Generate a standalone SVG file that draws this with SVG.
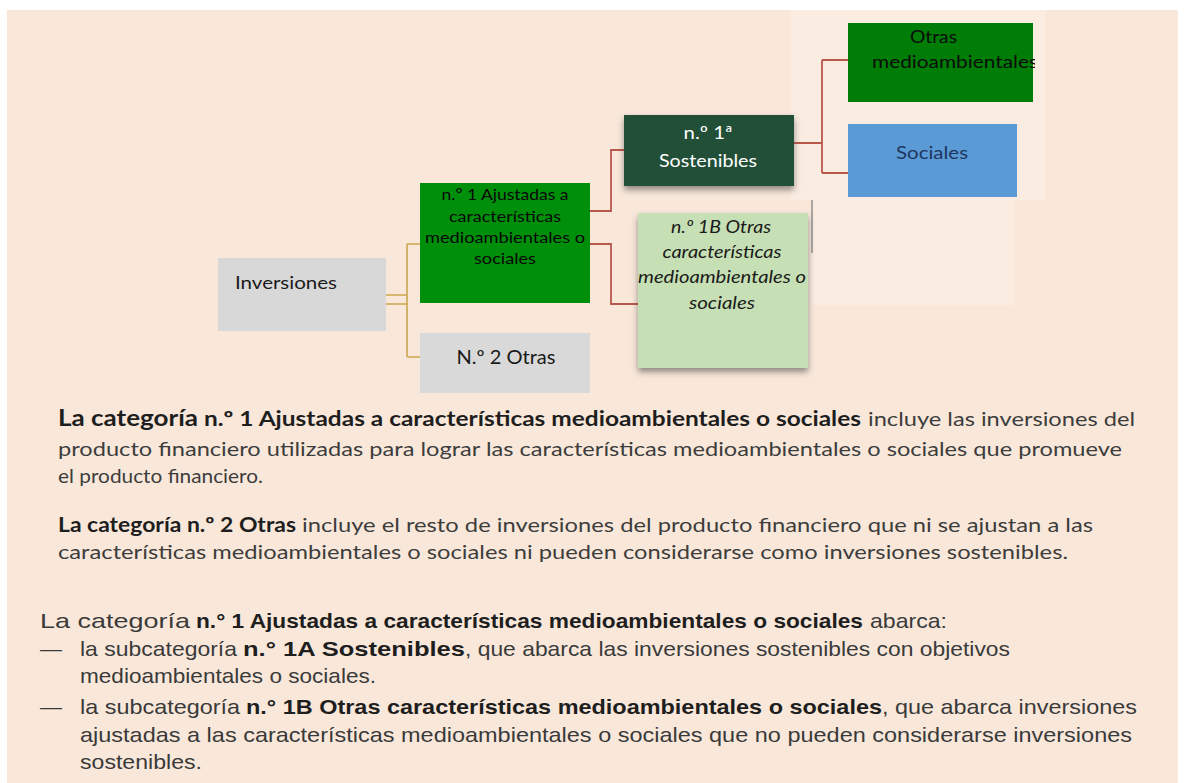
<svg xmlns="http://www.w3.org/2000/svg" width="1187" height="783" viewBox="0 0 1187 783">
<style>
.node-t{font-family:Lato,"Liberation Sans",sans-serif;fill:#1a1a1a;}
.c-gold{fill:none;stroke:#C9A64E;stroke-width:1.6;}
.c-red{fill:none;stroke:#B9574D;stroke-width:1.8;}
.p{font-family:Lato,"Liberation Sans",sans-serif;font-size:20px;fill:#3d3d3d;}
.pb{font-family:Lato,"Liberation Sans",sans-serif;font-size:20px;font-weight:bold;fill:#1e1e1e;}
.q{font-family:"Liberation Sans",Arial,sans-serif;font-size:21px;fill:#3a3a3a;}
.qb{font-family:"Liberation Sans",Arial,sans-serif;font-size:21px;font-weight:bold;fill:#1e1e1e;}
</style>
<defs>
<filter id="sh" x="-10%" y="-10%" width="120%" height="140%">
<feDropShadow dx="0" dy="4" stdDeviation="3" flood-color="#3a3a3a" flood-opacity="0.55"/>
</filter>
<clipPath id="clipOtras"><rect x="848" y="23" width="187" height="79"/></clipPath>
</defs>
<rect x="0" y="0" width="1187" height="783" fill="#ffffff"/>
<rect x="7" y="10" width="1171" height="773" fill="#F9E8DA"/>
<rect x="791" y="10" width="254" height="190" fill="#FAECE0"/>
<rect x="812" y="200" width="203" height="105" fill="#FAECE0"/>
<line x1="812" y1="200" x2="812" y2="253" stroke="#8f8f8f" stroke-width="1.5"/>

<g id="connectors">
<path class="c-gold" d="M386,295 H407 M386,304 H407 M407,244 V357 M407,244 H420 M407,357 H420"/>
<path class="c-red" d="M590,211 H611 V150 H624"/>
<path class="c-red" d="M590,244 H611 V304 H638"/>
<path class="c-red" d="M794,143 H822 M822,60 V173 M822,60 H848 M822,173 H848"/>
</g>

<g id="node-inversiones">
<rect x="218" y="258" width="168" height="73" fill="#D8D8D9"/>
<text class="node-t" x="235" y="289" font-size="18" textLength="102" lengthAdjust="spacingAndGlyphs">Inversiones</text>
</g>

<g id="node-n1">
<rect x="420" y="183" width="170" height="120" fill="#008F0A"/>
<g class="node-t" font-size="16" text-anchor="middle" style="fill:#080808">
<text x="505" y="200" textLength="127" lengthAdjust="spacingAndGlyphs">n.º 1 Ajustadas a</text>
<text x="505" y="222" textLength="112" lengthAdjust="spacingAndGlyphs">características</text>
<text x="505" y="243" textLength="160" lengthAdjust="spacingAndGlyphs">medioambientales o</text>
<text x="505" y="264" textLength="62" lengthAdjust="spacingAndGlyphs">sociales</text>
</g>
</g>

<g id="node-n2">
<rect x="420" y="333" width="170" height="60" fill="#D9D9D9"/>
<text class="node-t" x="506" y="364" font-size="19" text-anchor="middle" textLength="99" lengthAdjust="spacingAndGlyphs">N.º 2 Otras</text>
</g>

<g id="node-1a">
<rect x="624" y="115" width="170" height="71" fill="#234F37" filter="url(#sh)"/>
<g class="node-t" font-size="18" text-anchor="middle" style="fill:#ffffff">
<text x="708" y="139" textLength="49" lengthAdjust="spacingAndGlyphs">n.º 1ª</text>
<text x="708" y="167" textLength="98" lengthAdjust="spacingAndGlyphs">Sostenibles</text>
</g>
</g>

<g id="node-1b">
<rect x="638" y="213" width="170" height="155" fill="#C6DFB4" filter="url(#sh)"/>
<g class="node-t" font-size="18" font-style="italic" text-anchor="middle">
<text x="721" y="233" textLength="100" lengthAdjust="spacingAndGlyphs">n.º 1B Otras</text>
<text x="722" y="258" textLength="119" lengthAdjust="spacingAndGlyphs">características</text>
<text x="722" y="283" textLength="168" lengthAdjust="spacingAndGlyphs">medioambientales o</text>
<text x="722" y="309" textLength="66" lengthAdjust="spacingAndGlyphs">sociales</text>
</g>
</g>

<g id="node-otras-medio">
<rect x="848" y="23" width="185" height="79" fill="#007D06"/>
<g class="node-t" font-size="18" clip-path="url(#clipOtras)" style="fill:#0c0c0c">
<text x="910" y="43" textLength="47" lengthAdjust="spacingAndGlyphs">Otras</text>
<text x="872" y="68" textLength="166" lengthAdjust="spacingAndGlyphs">medioambientales</text>
</g>
</g>

<g id="node-sociales">
<rect x="848" y="124" width="169" height="73" fill="#5B9BD5"/>
<text class="node-t" x="932" y="159" font-size="18" text-anchor="middle" style="fill:#1F3560" textLength="72" lengthAdjust="spacingAndGlyphs">Sociales</text>
</g>

<g id="text-p1">
<text class="pb" x="58" y="426" textLength="140" lengthAdjust="spacingAndGlyphs" style="font-size:23px">La categoría</text>
<text class="pb" x="204" y="426" textLength="657" lengthAdjust="spacingAndGlyphs">n.º 1 Ajustadas a características medioambientales o sociales</text>
<text class="p" x="868" y="426" textLength="267" lengthAdjust="spacingAndGlyphs">incluye las inversiones del</text>
<text class="p" x="58" y="456" textLength="1064" lengthAdjust="spacingAndGlyphs">producto financiero utilizadas para lograr las características medioambientales o sociales que promueve</text>
<text class="p" x="58" y="483" textLength="205" lengthAdjust="spacingAndGlyphs">el producto financiero.</text>
</g>

<g id="text-p2">
<text class="pb" x="58" y="532" textLength="238" lengthAdjust="spacingAndGlyphs">La categoría n.º 2 Otras</text>
<text class="p" x="302" y="532" textLength="791" lengthAdjust="spacingAndGlyphs">incluye el resto de inversiones del producto financiero que ni se ajustan a las</text>
<text class="p" x="58" y="559" textLength="1010" lengthAdjust="spacingAndGlyphs">características medioambientales o sociales ni pueden considerarse como inversiones sostenibles.</text>
</g>

<g id="text-p3">
<text class="q" x="40" y="628" textLength="150" lengthAdjust="spacingAndGlyphs">La categoría</text>
<text class="qb" x="196" y="628" textLength="667" lengthAdjust="spacingAndGlyphs">n.° 1 Ajustadas a características medioambientales o sociales</text>
<text class="q" x="870" y="628" textLength="77" lengthAdjust="spacingAndGlyphs">abarca:</text>

<text class="q" x="40" y="656" textLength="22" lengthAdjust="spacingAndGlyphs">—</text>
<text class="q" x="80" y="656" textLength="157" lengthAdjust="spacingAndGlyphs">la subcategoría</text>
<text class="qb" x="243" y="656" textLength="222" lengthAdjust="spacingAndGlyphs">n.° 1A Sostenibles</text>
<text class="q" x="465" y="656" textLength="545" lengthAdjust="spacingAndGlyphs">, que abarca las inversiones sostenibles con objetivos</text>
<text class="q" x="80" y="683" textLength="296" lengthAdjust="spacingAndGlyphs">medioambientales o sociales.</text>

<text class="q" x="40" y="714" textLength="22" lengthAdjust="spacingAndGlyphs">—</text>
<text class="q" x="80" y="714" textLength="160" lengthAdjust="spacingAndGlyphs">la subcategoría</text>
<text class="qb" x="246" y="714" textLength="636" lengthAdjust="spacingAndGlyphs">n.° 1B Otras características medioambientales o sociales</text>
<text class="q" x="882" y="714" textLength="255" lengthAdjust="spacingAndGlyphs">, que abarca inversiones</text>
<text class="q" x="80" y="742" textLength="1052" lengthAdjust="spacingAndGlyphs">ajustadas a las características medioambientales o sociales que no pueden considerarse inversiones</text>
<text class="q" x="80" y="769" textLength="122" lengthAdjust="spacingAndGlyphs">sostenibles.</text>
</g>
</svg>
